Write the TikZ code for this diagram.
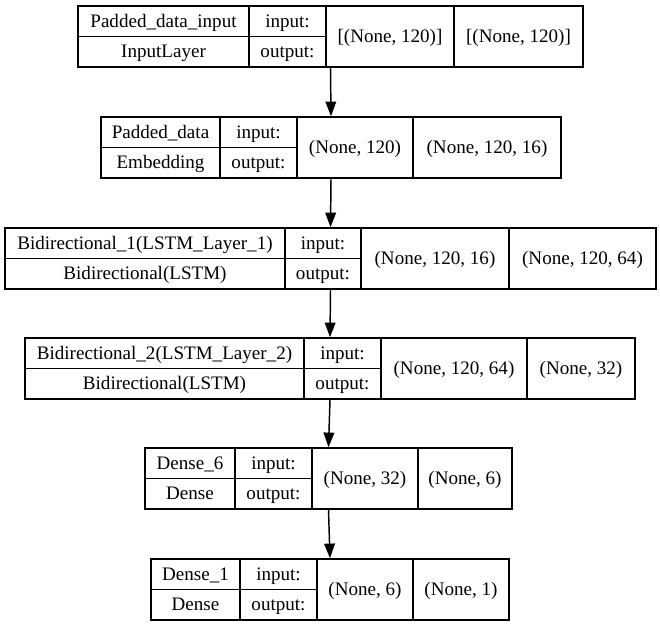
\documentclass[tikz,border=0pt]{standalone}
\usepackage{fontspec}
\setmainfont{Liberation Serif}
\usetikzlibrary{arrows.meta,fit}
\tikzset{
  lbl/.style={inner sep=0pt, font=\fontsize{14.3pt}{16pt}\selectfont, anchor=base},
  frame/.style={draw, line width=1.1pt, inner sep=0pt},
  sep/.style={line width=1.1pt},
  flow/.style={line width=1.1pt, -{Triangle[length=11pt,width=8pt]}},
}
\newcommand\klbox[7]{%
  \node[frame, fit={(#2,#7) (#3,#7+61)}] (#1) {};
  \draw[sep] (#4,#7) -- (#4,#7+61);
  \draw[sep] (#5,#7) -- (#5,#7+61);
  \draw[sep] (#6,#7) -- (#6,#7+61);
  \draw[sep] (#2,#7+30.5) -- (#5,#7+30.5);
  \def\kx{#2}\def\ka{#4}\def\kb{#5}\def\kc{#6}\def\ky{#7}\def\kr{#3}}
\newcommand\kltext[5]{%
  \node[lbl] (#1-l) at ({(\kx+\ka)/2},\ky+21.25) {#2};
  \node[lbl] (#1-c) at ({(\kx+\ka)/2},\ky+51.75) {#3};
  \node[lbl] (#1-i) at ({(\ka+\kb)/2},\ky+21.25) {input:};
  \node[lbl] (#1-o) at ({(\ka+\kb)/2},\ky+51.75) {output:};
  \node[lbl] (#1-s1) at ({(\kb+\kc)/2},\ky+36.5) {#4};
  \node[lbl] (#1-s2) at ({(\kc+\kr)/2},\ky+36.5) {#5};}
\begin{document}
\begin{tikzpicture}[x=0.75pt,y=-0.75pt]
\useasboundingbox (0,0) rectangle (660,627);
\klbox{b1}{78}{583}{249}{326}{454}{6}
\kltext{b1}{Padded\_data\_input}{InputLayer}{[(None, 120)]}{[(None, 120)]}
\klbox{b2}{101}{561}{220}{297}{413}{117}
\kltext{b2}{Padded\_data}{Embedding}{(None, 120)}{(None, 120, 16)}
\klbox{b3}{5}{656}{285}{361}{509}{228}
\kltext{b3}{Bidirectional\_1(LSTM\_Layer\_1)}{Bidirectional(LSTM)}{(None, 120, 16)}{(None, 120, 64)}
\klbox{b4}{25}{635}{304}{381}{527}{338}
\kltext{b4}{Bidirectional\_2(LSTM\_Layer\_2)}{Bidirectional(LSTM)}{(None, 120, 64)}{(None, 32)}
\klbox{b5}{145}{512}{235}{312}{418}{448}
\kltext{b5}{Dense\_6}{Dense}{(None, 32)}{(None, 6)}
\klbox{b6}{151}{509}{240}{317}{413}{559}
\kltext{b6}{Dense\_1}{Dense}{(None, 6)}{(None, 1)}
\draw[flow] (b1.south) -- (b2.north);
\draw[flow] (b2.south) -- (b3.north);
\draw[flow] (b3.south) -- (b4.north);
\draw[flow] (b4.south) -- (b5.north);
\draw[flow] (b5.south) -- (b6.north);
\end{tikzpicture}
\end{document}
